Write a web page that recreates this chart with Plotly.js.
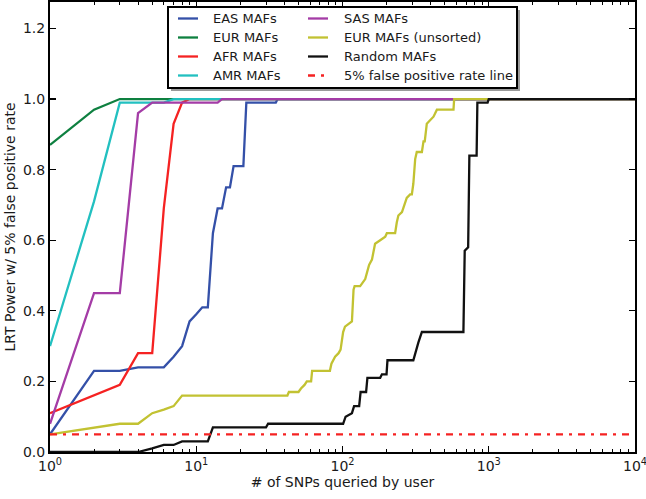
<!DOCTYPE html>
<html><head><meta charset="utf-8">
<script src="https://cdn.plot.ly/plotly-3.0.1.min.js"></script>
<style>html,body{margin:0;padding:0;background:#fff}#chart{width:646px;height:499px}</style>
</head><body><div id="chart"></div>
<script>
// ---- data ----
const seriesNames = ["EAS MAFs","EUR MAFs","AFR MAFs","AMR MAFs","SAS MAFs","EUR MAFs (unsorted)","Random MAFs"];
const fprName = "5% false positive rate line";

const easX = [1,2,3,4,6,7,8,9,10,11,12,13,14,15,16,17,18,21,22,35,36,10000];
const easY = [0.05,0.23,0.23,0.24,0.24,0.27,0.30,0.37,0.39,0.41,0.41,0.62,0.69,0.69,0.75,0.75,0.81,0.81,0.99,0.99,1.0,1.0];

const eurX = [1,2,3,10000];
const eurY = [0.87,0.97,1.0,1.0];

const afrX = [1,3,4,5,6,7,8,9,10000];
const afrY = [0.11,0.19,0.28,0.28,0.69,0.93,0.99,1.0,1.0];

const amrX = [1,2,3,6,7,10000];
const amrY = [0.30,0.71,0.99,0.99,1.0,1.0];

const sasX = [1,2,3,4,5,14,15,10000];
const sasY = [0.08,0.45,0.45,0.96,0.99,0.99,1.0,1.0];

const eurUnsX = [1,3,4,5,6,7,8,42,43,50,52,55,57,61,62,82,84,89,94,97,101,104,116,119,121,132,143,147,152,159,167,181,196,201,229,235,241,255,275,290,298,305,314,322,349,358,365,377,397,419,442,574,580,10000];
const eurUnsY = [0.05,0.08,0.08,0.11,0.12,0.13,0.16,0.16,0.17,0.17,0.18,0.19,0.20,0.20,0.23,0.23,0.25,0.27,0.28,0.29,0.34,0.355,0.37,0.46,0.47,0.47,0.49,0.51,0.53,0.545,0.59,0.60,0.61,0.62,0.62,0.65,0.67,0.68,0.72,0.73,0.73,0.76,0.83,0.85,0.85,0.88,0.88,0.93,0.94,0.95,0.97,0.97,1.0,1.0];

const randX = [1,4,5,6,7,8,12,13,30,31,101,105,116,120,130,133,145,148,181,186,200,203,305,314,330,349,671,685,723,737,826,836,982,1000,10000];
const randY = [0,0,0.01,0.02,0.02,0.03,0.03,0.07,0.07,0.08,0.08,0.10,0.11,0.13,0.13,0.17,0.17,0.21,0.21,0.22,0.22,0.26,0.26,0.28,0.31,0.34,0.34,0.57,0.58,0.84,0.84,0.99,0.99,1.0,1.0];

const fprX = [1,10000];
const fprY = [0.05,0.05];

const xTickVals = [1,10,100,1000,10000];
const xTickText = ["10<sup>0</sup>","10<sup>1</sup>","10<sup>2</sup>","10<sup>3</sup>","10<sup>4</sup>"];
const yTickVals = [0,0.2,0.4,0.6,0.8,1.0,1.2];
const yTickText = ["0.0","0.2","0.4","0.6","0.8","1.0","1.2"];
const xMinorVals = [];
for (const d of [1,10,100,1000]) for (let k=2;k<=9;k++) xMinorVals.push(k*d);

// ---- styles ----
const colors = ["#3450a8","#0e8040","#f52222","#22c0c0","#a43ca6","#c2c232","#111111"];
const fprColor = "#f52222";
const lw = 2.3;
const fprDash = "7px,6px,3px,6px";

const xs = [easX,eurX,afrX,amrX,sasX,eurUnsX,randX];
const ys = [easY,eurY,afrY,amrY,sasY,eurUnsY,randY];

const traces = xs.map((x,i)=>({
  x:x, y:ys[i], type:"scatter", mode:"lines", name:seriesNames[i],
  line:{color:colors[i], width:lw}, showlegend:false, hoverinfo:"skip"
}));
traces.push({x:fprX,y:fprY,type:"scatter",mode:"lines",name:fprName,
  line:{color:fprColor,width:lw,dash:fprDash},showlegend:false,hoverinfo:"skip"});

// ---- plot area geometry (pixels) ----
const W=646,H=499, L=50, R=11, T=2, B=47;
const pw=W-L-R, ph=H-T-B;
const px = v => (v-L)/pw;           // pixel x -> paper
const py = v => (H-B-v)/ph;         // pixel y -> paper

// manual legend (box, shadow, samples, labels)
const font = "DejaVu Sans, Liberation Sans, sans-serif";
const txtColor = "#1a1a1a";
const legL=168, legT=7, legR=517, legB=88;
const shapes = [
  {type:"rect",xref:"paper",yref:"paper",x0:px(legL+3),x1:px(legR+3),y0:py(legB+3),y1:py(legT+3),
   fillcolor:"#9a9a9a",line:{width:0},layer:"above"},
  {type:"rect",xref:"paper",yref:"paper",x0:px(legL),x1:px(legR),y0:py(legB),y1:py(legT),
   fillcolor:"#ffffff",line:{color:"#000",width:2},layer:"above"}
];
const annotations = [];
const legendNames = seriesNames.concat([fprName]);
const legendColors = colors.concat([fprColor]);
const rowsY = [18.5,37.5,56.5,75.5];
const colLineX = [[178,198],[308,328]];
const colTextX = [211,342];
legendNames.forEach((n,i)=>{
  const c = i<4?0:1, r = i%4;
  const isFpr = (i===7);
  shapes.push({type:"line",xref:"paper",yref:"paper",x0:px(colLineX[c][0]),x1:px(colLineX[c][1]),
    y0:py(rowsY[r]),y1:py(rowsY[r]),line:{color:legendColors[i],width:lw,dash:isFpr?fprDash:"solid"},layer:"above"});
  annotations.push({xref:"paper",yref:"paper",x:px(colTextX[c]),y:py(rowsY[r]),xanchor:"left",yanchor:"middle",
    text:n,showarrow:false,font:{family:font,size:13,color:txtColor}});
});

const layout = {
  width:W,height:H,margin:{l:L,r:R,t:T,b:B,pad:0},
  paper_bgcolor:"#fff",plot_bgcolor:"#fff",showlegend:false,
  font:{family:font,size:14,color:txtColor},
  xaxis:{type:"log",range:[0,4],tickmode:"array",tickvals:xTickVals,ticktext:xTickText,
    ticks:"inside",ticklen:6,tickwidth:1.2,tickcolor:"#000",showline:true,linewidth:2,linecolor:"#000",
    mirror:"ticks",showgrid:false,zeroline:false,ticklabeloverflow:"allow",
    minor:{tickmode:"array",tickvals:xMinorVals,ticks:"inside",ticklen:3,tickwidth:1,tickcolor:"#000",showgrid:false},
    tickfont:{family:font,size:14,color:txtColor},
    title:{text:"# of SNPs queried by user",font:{family:font,size:14,color:txtColor},standoff:4},automargin:false},
  yaxis:{range:[0,1.275],tickmode:"array",tickvals:yTickVals,ticktext:yTickText,
    ticks:"inside",ticklen:6,tickwidth:1.2,tickcolor:"#000",showline:true,linewidth:2,linecolor:"#000",
    mirror:"ticks",showgrid:false,zeroline:false,ticklabeloverflow:"allow",
    tickfont:{family:font,size:14,color:txtColor},
    title:{text:"LRT Power w/ 5% false positive rate",font:{family:font,size:14,color:txtColor},standoff:4},automargin:false},
  shapes:shapes, annotations:annotations
};
Plotly.newPlot("chart",traces,layout,{displayModeBar:false,staticPlot:true});
</script></body></html>
